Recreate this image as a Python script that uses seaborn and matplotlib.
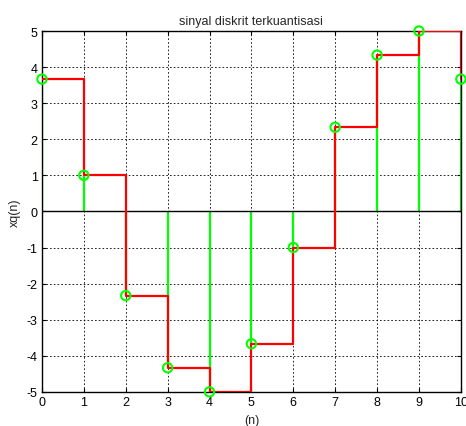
import numpy as np
import pandas as pd
import matplotlib
matplotlib.use("Agg")
import matplotlib.pyplot as plt
import seaborn as sns

n = [0, 1, 2, 3, 4, 5, 6, 7, 8, 9, 10]
xq = [3.667, 1.0, -2.333, -4.333, -5.0, -3.667, -1.0, 2.333, 4.333, 5.0, 3.667]
xticks = [0, 1, 2, 3, 4, 5, 6, 7, 8, 9, 10]
yticks = [-5, -4, -3, -2, -1, 0, 1, 2, 3, 4, 5]

df = pd.DataFrame({"n": n, "xq": xq})

sns.set_style("white")
plt.rcParams['font.family'] = ['Liberation Sans', 'DejaVu Sans']

fig = plt.figure(figsize=(4.66, 4.27), dpi=100)
ax = fig.add_axes([0.090, 0.080, 0.899, 0.845])

ax.grid(True, color='black', linestyle=(0, (2, 2.5)), linewidth=0.6)
ax.set_axisbelow(True)

# stems
ax.vlines(df["n"], 0, df["xq"], colors=(0, 1, 0), linewidth=1.6, zorder=2)
ax.axhline(0, color='black', linewidth=1.0, zorder=2.5)

# stairs
sns.lineplot(data=df, x="n", y="xq", drawstyle='steps-post', estimator=None,
             color=(1, 0, 0), linewidth=1.6, ax=ax, zorder=3)

# markers
sns.scatterplot(data=df, x="n", y="xq", marker='o', s=45, facecolor='none',
                edgecolor=(0, 1, 0), linewidth=1.5, ax=ax, zorder=4, clip_on=False)

ax.set_xlim(0, 10)
ax.set_ylim(-5, 5)
ax.set_xticks(xticks)
ax.set_yticks(yticks)
ax.set_xticklabels([str(t) for t in xticks])
ax.set_yticklabels([str(t) for t in yticks])
ax.tick_params(direction='in', length=3, labelsize=9, top=True, right=True,
               bottom=True, left=True, pad=3, colors='black')
for s in ax.spines.values():
    s.set_color('black')
    s.set_linewidth(1.0)
    s.set_visible(True)

ax.set_xlabel("(n)", fontsize=9, labelpad=4)
ax.set_ylabel("xq(n)", fontsize=9, labelpad=4)
ax.set_title("sinyal diskrit terkuantisasi", fontsize=9, pad=5)

fig.savefig("out.png", dpi=100)
